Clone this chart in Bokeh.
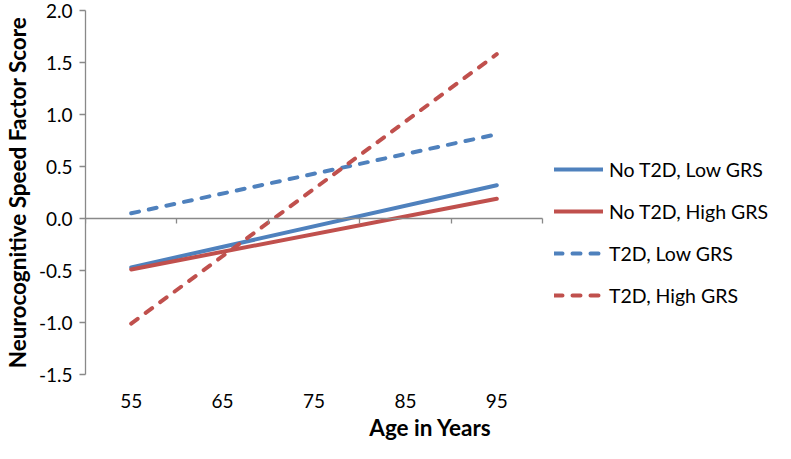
from bokeh.plotting import figure
from bokeh.models import Range1d, LinearAxis, FixedTicker, Legend, LegendItem, NumeralTickFormatter
from bokeh.embed import file_html
from bokeh.resources import INLINE

# ---- data ----
ages = [55, 95]
no_t2d_low = [-0.47, 0.32]
no_t2d_high = [-0.49, 0.19]
t2d_low = [0.05, 0.81]
t2d_high = [-1.01, 1.58]

series_names = ["No T2D, Low GRS", "No T2D, High GRS", "T2D, Low GRS", "T2D, High GRS"]
series_values = [no_t2d_low, no_t2d_high, t2d_low, t2d_high]
series_colors = ["#4F81BD", "#C0504D", "#4F81BD", "#C0504D"]
series_dash = ["solid", "solid", "8 10", "8 10"]

y_ticks = [-1.5, -1.0, -0.5, 0.0, 0.5, 1.0, 1.5, 2.0]
x_tick_labels = [55, 65, 75, 85, 95]
x_category_bounds = [50, 60, 70, 80, 90, 100]

FONT = "Lato"
AXIS_GRAY = "#898989"

# layout in pixels
LEFT, TOP, BOTTOM = 77, 10, 68
FRAME_W = 690                      # frame runs on to the right to hold the legend
W, H = LEFT + FRAME_W, 443
PLOT_W = 457                       # width of the category area (50..100)
x_end = x_category_bounds[0] + FRAME_W * 50.0 / PLOT_W

p = figure(width=W, height=H, frame_width=FRAME_W, output_backend="svg", toolbar_location=None,
           x_range=Range1d(x_category_bounds[0], x_end), y_range=Range1d(y_ticks[0], y_ticks[-1]),
           x_axis_location=None, y_axis_location=None,
           min_border_left=LEFT, min_border_right=0, min_border_top=TOP, min_border_bottom=BOTTOM)
p.xgrid.visible = False
p.ygrid.visible = False
p.outline_line_color = None
p.background_fill_color = "white"
p.border_fill_color = "white"

# vertical axis
yax = LinearAxis(ticker=FixedTicker(ticks=y_ticks), formatter=NumeralTickFormatter(format="0.0"),
                 axis_label="Neurocognitive Speed Factor Score")
yax.axis_line_color = AXIS_GRAY
yax.axis_line_width = 1.3
yax.major_tick_line_color = AXIS_GRAY
yax.major_tick_line_width = 1.3
yax.major_tick_out = 6
yax.major_tick_in = 0
yax.minor_tick_line_color = None
yax.major_label_standoff = 7
yax.major_label_text_font = FONT
yax.major_label_text_font_size = "19px"
yax.major_label_text_color = "black"
yax.axis_label_text_font = FONT
yax.axis_label_text_font_style = "bold"
yax.axis_label_text_font_size = "22.5px"
yax.axis_label_text_color = "black"
yax.axis_label_standoff = 5
p.add_layout(yax, "left")

# bottom axis with the age labels
bax = LinearAxis(ticker=FixedTicker(ticks=x_tick_labels), axis_label="Age in Years",
                 bounds=(x_category_bounds[0], x_category_bounds[-1]))
bax.axis_line_color = None
bax.major_tick_line_color = None
bax.minor_tick_line_color = None
bax.major_tick_out = 0
bax.major_tick_in = 0
bax.major_label_standoff = 19
bax.major_label_text_font = FONT
bax.major_label_text_font_size = "19px"
bax.major_label_text_color = "black"
bax.axis_label_text_font = FONT
bax.axis_label_text_font_style = "bold"
bax.axis_label_text_font_size = "22.5px"
bax.axis_label_text_color = "black"
bax.axis_label_standoff = 3
p.add_layout(bax, "below")

# horizontal axis line crossing at zero, with category boundary ticks pointing down
zax = LinearAxis(fixed_location=0, ticker=FixedTicker(ticks=x_category_bounds),
                 bounds=(x_category_bounds[0], x_category_bounds[-1]))
zax.axis_line_color = AXIS_GRAY
zax.axis_line_width = 1.3
zax.major_tick_line_color = AXIS_GRAY
zax.major_tick_line_width = 1.3
zax.major_tick_out = 0
zax.major_tick_in = 5
zax.minor_tick_line_color = None
zax.major_label_text_alpha = 0
zax.major_label_text_font_size = "0px"
zax.major_label_standoff = 0
p.add_layout(zax, "above")

items = []
for name, vals, col, dash in zip(series_names, series_values, series_colors, series_dash):
    r = p.line(ages, vals, line_color=col, line_width=4, line_dash=dash, line_cap="round")
    items.append(LegendItem(label=name, renderers=[r]))

legend = Legend(items=items, location=(469, 67))
legend.border_line_color = None
legend.background_fill_alpha = 0
legend.padding = 0
legend.margin = 0
legend.glyph_width = 49
legend.glyph_height = 24
legend.label_height = 24
legend.spacing = 18
legend.label_standoff = 6
legend.label_text_font = FONT
legend.label_text_font_size = "19.5px"
legend.label_text_color = "black"
p.add_layout(legend)

open("out.html", "w").write(file_html(p, INLINE))
